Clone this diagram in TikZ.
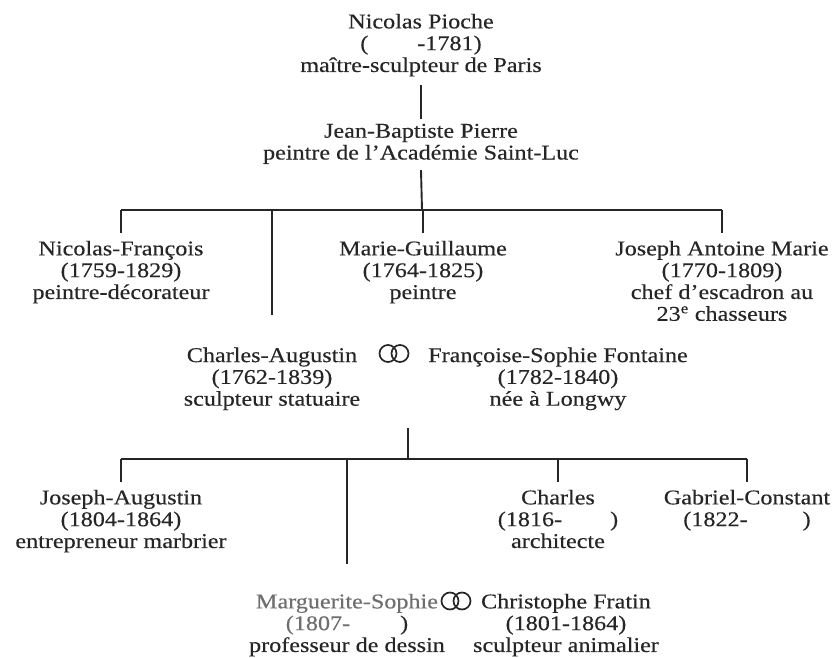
\documentclass[tikz,border=0pt]{standalone}
\usepackage{fontspec}
\setmainfont[FakeStretch=1.15,FakeBold=0.3]{Liberation Serif}
\definecolor{ink}{HTML}{262626}
\definecolor{soft}{HTML}{6E6E6E}
\begin{document}
\begin{tikzpicture}[x=1pt,y=-1pt,
  person/.style={anchor=north, inner sep=0pt, align=center, text=ink, font=\fontsize{21}{21.8}\selectfont},
  bar/.style={draw=ink, line width=1.3pt},
  stub/.style={draw=ink, line width=2.4pt},
  longdrop/.style={draw=ink, line width=1.9pt},
  ring/.style={circle, draw=ink, line width=1.7pt, minimum size=17pt, inner sep=0pt}]
\useasboundingbox (0,0) rectangle (836,658);

% generation 0 and 1
\node[person] (pioche) at (421,13.6) {Nicolas Pioche\\(\hspace{49pt}-1781)\\maître-sculpteur de Paris};
\node[person] (jbp) at (421,123.6) {Jean-Baptiste Pierre\\peintre de l’Académie Saint-Luc};

% generation 2
\node[person] (nf) at (121,240.6) {Nicolas-François\\(1759-1829)\\peintre-décorateur};
\node[person] (mg) at (423,240.6) {Marie-Guillaume\\(1764-1825)\\peintre};
\node[person] (jam) at (722,240.6) {Joseph Antoine Marie\\(1770-1809)\\chef d’escadron au\\23\textsuperscript{e} chasseurs};
\node[person] (ca) at (272,347.3) {Charles-Augustin\\(1762-1839)\\sculpteur statuaire};
\node[ring] (r1a) at (388,353.5) {};
\node[ring] (r1b) at (400,353.5) {};
\node[person] (fsf) at (558,347.3) {Françoise-Sophie Fontaine\\(1782-1840)\\née à Longwy};

% generation 3
\node[person] (ja) at (121,489.6) {Joseph-Augustin\\(1804-1864)\\entrepreneur marbrier};
\node[person] (ch) at (558,489.6) {Charles\\(1816-\hspace{48pt})\\architecte};
\node[person] (gc) at (747,489.6) {Gabriel-Constant\\(1822-\hspace{55pt})};
\node[person] (ms) at (347,593.6) {\textcolor{soft}{Marguerite-Sophie}\\\textcolor{soft}{(1807-}\hspace{50pt})\\professeur de dessin};
\node[ring] (r2a) at (450,601) {};
\node[ring] (r2b) at (462,601) {};
\node[person] (cf) at (566,593.6) {Christophe Fratin\\(1801-1864)\\sculpteur animalier};

% connectors
\coordinate (b1) at (422,210);
\draw[stub] ([yshift=-8pt]pioche.south) -- ([yshift=5pt]jbp.north);
\draw[longdrop] ([yshift=-6pt]jbp.south) -- (b1);
\draw[bar] (nf.north |- b1) -- (jam.north |- b1);
\draw[stub] (nf.north |- b1) -- ([yshift=7.6pt]nf.north);
\draw[stub] (mg.north |- b1) -- ([yshift=7.6pt]mg.north);
\draw[stub] (jam.north |- b1) -- ([yshift=7.6pt]jam.north);
\draw[longdrop] (ca.north |- b1) -- ([yshift=32pt]ca.north);

\coordinate (c2) at (408,428);
\coordinate (b2) at (408,459);
\draw[longdrop] (c2) -- (b2);
\draw[bar] (ja.north |- b2) -- (gc.north |- b2);
\draw[stub] (ja.north |- b2) -- ([yshift=7.6pt]ja.north);
\draw[stub] (ch.north |- b2) -- ([yshift=7.6pt]ch.north);
\draw[stub] (gc.north |- b2) -- ([yshift=7.6pt]gc.north);
\draw[longdrop] (ms.north |- b2) -- ([yshift=29.6pt]ms.north);
\end{tikzpicture}
\end{document}
